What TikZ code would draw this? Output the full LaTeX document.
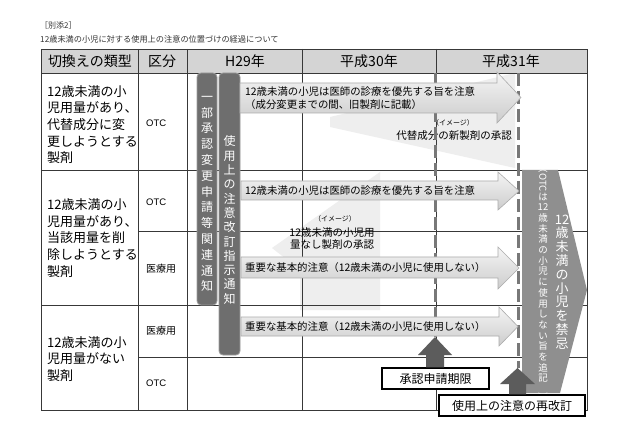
\documentclass[tikz,border=0pt]{standalone}
\usepackage{fontspec}
\setmainfont{Noto Sans CJK JP}
\newfontfamily\latf{Liberation Sans}
\definecolor{hdr}{gray}{0.83}
\definecolor{gridc}{gray}{0.22}
\definecolor{barc}{gray}{0.43}
\definecolor{barb}{gray}{0.62}
\definecolor{bigc}{gray}{0.56}
\definecolor{upc}{gray}{0.36}
\definecolor{dashc}{gray}{0.47}
\definecolor{wedgec}{gray}{0.935}
\definecolor{titc}{gray}{0.2}
\tikzset{
  gridln/.style={draw=gridc, line width=0.7pt},
  hdrtext/.style={font=\fontsize{14}{16}\selectfont, inner sep=0pt},
  rowtext/.style={font=\fontsize{13}{16.6}\selectfont, align=left, anchor=west, inner sep=0pt},
  kubun/.style={font=\fontsize{10}{12}\selectfont, anchor=west, inner sep=0pt},
  otc/.style={font=\latf\fontsize{9.5}{12}\selectfont, anchor=west, inner sep=0pt},
  barbox/.style={fill=barc, draw=barb, line width=0.8pt, rounded corners=4pt},
  bartext/.style={text=white, align=center, inner sep=0pt},
  rarrow/.style={draw=gray!65, line width=0.6pt, top color=gray!8, bottom color=gray!40},
  arrtext/.style={font=\fontsize{10.4}{12.8}\selectfont, anchor=west, inner sep=0pt, align=left},
  imgtext/.style={font=\fontsize{7}{8}\selectfont, inner sep=0pt},
  wtext/.style={font=\fontsize{10.5}{12}\selectfont, inner sep=0pt, align=center},
  dashln/.style={draw=dashc, line width=3pt, dash pattern=on 13pt off 5pt},
  uparr/.style={fill=upc},
  markbox/.style={draw=black, line width=1.5pt, fill=white, inner sep=0pt, font=\fontsize{12}{14}\selectfont},
  titletext/.style={text=titc, anchor=west, inner sep=0pt}
}
\begin{document}
\begin{tikzpicture}[x=1pt,y=-1pt]
\useasboundingbox[fill=white] (0,0) rectangle (630,441);

% title
\node[titletext, font=\fontsize{8}{9}\selectfont] (t1) at (40,25) {［別添2］};
\node[titletext, font=\fontsize{8.2}{9}\selectfont] (t2) at (40,39) {12歳未満の小児に対する使用上の注意の位置づけの経過について};

% header fill
\fill[hdr] (41,49) rectangle (587,73);

% light wedges
\fill[wedgec] (330,117) -- (515,73) -- (515,168) -- (330,127) -- cycle;
\fill[wedgec] (380,172) -- (380,310) -- (300,310) -- (300,270) -- (272,248) -- cycle;

% grid
\draw[gridln] (41,49) rectangle (587,410);
\draw[gridln] (41,73) -- (587,73);
\draw[gridln] (41,170) -- (587,170);
\draw[gridln] (41,305) -- (587,305);
\draw[gridln] (138,231) -- (587,231);
\draw[gridln] (138,357) -- (587,357);
\foreach \xx in {138,187,302,436} \draw[gridln] (\xx,49) -- (\xx,410);

% header texts
\node[hdrtext] (h1) at (90,61) {切換えの類型};
\node[hdrtext] (h2) at (162,61) {区分};
\node[hdrtext] (h3) at (245,61) {H29年};
\node[hdrtext] (h4) at (369,61) {平成30年};
\node[hdrtext] (h5) at (511,61) {平成31年};

% row texts
\node[rowtext] (r1) at (47,124.5) {12歳未満の小\\児用量があり、\\代替成分に変\\更しようとする\\製剤};
\node[rowtext] (r2) at (47,238) {12歳未満の小\\児用量があり、\\当該用量を削\\除しようとする\\製剤};
\node[rowtext] (r3) at (47,359) {12歳未満の小\\児用量がない\\製剤};

\node[otc] (k1) at (146,123) {OTC};
\node[otc] (k2) at (146,202) {OTC};
\node[kubun] (k3) at (146,269) {医療用};
\node[kubun] (k4) at (146,331) {医療用};
\node[otc] (k5) at (146,383) {OTC};

% wedge texts
\node[imgtext] (i1) at (453,123) {（イメージ）};
\node[wtext] (w1) at (454,136) {代替成分の新製剤の承認};
\node[imgtext] (i2) at (335,219) {（イメージ）};
\node[wtext] (w2) at (332,238.5) {12歳未満の小児用\\量なし製剤の承認};

% dashed lines
\coordinate (d1top) at (435,73);
\coordinate (d2top) at (518,73);
\draw[dashln] (d1top) -- (435,337);
\draw[dashln] (d2top) -- (518,368);

% bars
\draw[barbox] (197,73) rectangle (217,305);
\node[bartext, font=\fontsize{12}{15.8}\selectfont] (bar1) at (207,194) {一\\部\\承\\認\\変\\更\\申\\請\\等\\関\\連\\通\\知};
\draw[barbox] (219,73) rectangle (240,355);
\node[bartext, font=\fontsize{12}{14.3}\selectfont] (bar2) at (229.5,220) {使\\用\\上\\の\\注\\意\\改\\訂\\指\\示\\通\\知};

% right arrows
\path[rarrow] (240,83) -- (497,83) -- (497,72) -- (521,97.5) -- (497,123) -- (497,113) -- (240,113) -- cycle;
\path[rarrow] (241,181) -- (498,181) -- (498,172) -- (519,191) -- (498,210) -- (498,200) -- (241,200) -- cycle;
\path[rarrow] (241,257) -- (498,257) -- (498,247) -- (519,268) -- (498,289) -- (498,278) -- (241,278) -- cycle;
\path[rarrow] (241,317) -- (499,317) -- (499,307) -- (518,326.5) -- (499,346) -- (499,336) -- (241,336) -- cycle;

\node[arrtext] (a1) at (245,98.5) {12歳未満の小児は医師の診療を優先する旨を注意\\（成分変更までの間、旧製剤に記載）};
\node[arrtext] (a2) at (245,190.5) {12歳未満の小児は医師の診療を優先する旨を注意};
\node[arrtext] (a3) at (245,267.5) {重要な基本的注意（12歳未満の小児に使用しない）};
\node[arrtext] (a4) at (245,326.5) {重要な基本的注意（12歳未満の小児に使用しない）};

% big gray shape
\fill[bigc] (522,170) -- (558,170) -- (587,290) -- (560,393) -- (522,393) -- cycle;
\node[bartext, font=\fontsize{9.5}{10.7}\selectfont] (g1) at (543,283) {\rotatebox{-90}{（OTC}\\は\\12\\歳\\未\\満\\の\\小\\児\\に\\使\\用\\し\\な\\い\\旨\\を\\追\\記\\\rotatebox{-90}{）}};
\node[bartext, font=\fontsize{13}{13.8}\selectfont] (g2) at (562,282) {12\\歳\\未\\満\\の\\小\\児\\を\\禁\\忌};

% marker boxes and up arrows
\node[markbox, minimum width=107pt, minimum height=21pt] (m1) at (435.5,378.5) {承認申請期限};
\node[markbox, minimum width=146pt, minimum height=21pt] (m2) at (512,405.5) {使用上の注意の再改訂};
\fill[uparr] (m1.north -| 426,0) -- (426,355) -- (418,355) -- (435,337) -- (452,355) -- (444,355) -- (m1.north -| 444,0) -- cycle;
\fill[uparr] (m2.north -| 509,0) -- (509,384) -- (500,384) -- (517.5,368) -- (535,384) -- (526,384) -- (m2.north -| 526,0) -- cycle;
\end{tikzpicture}
\end{document}
